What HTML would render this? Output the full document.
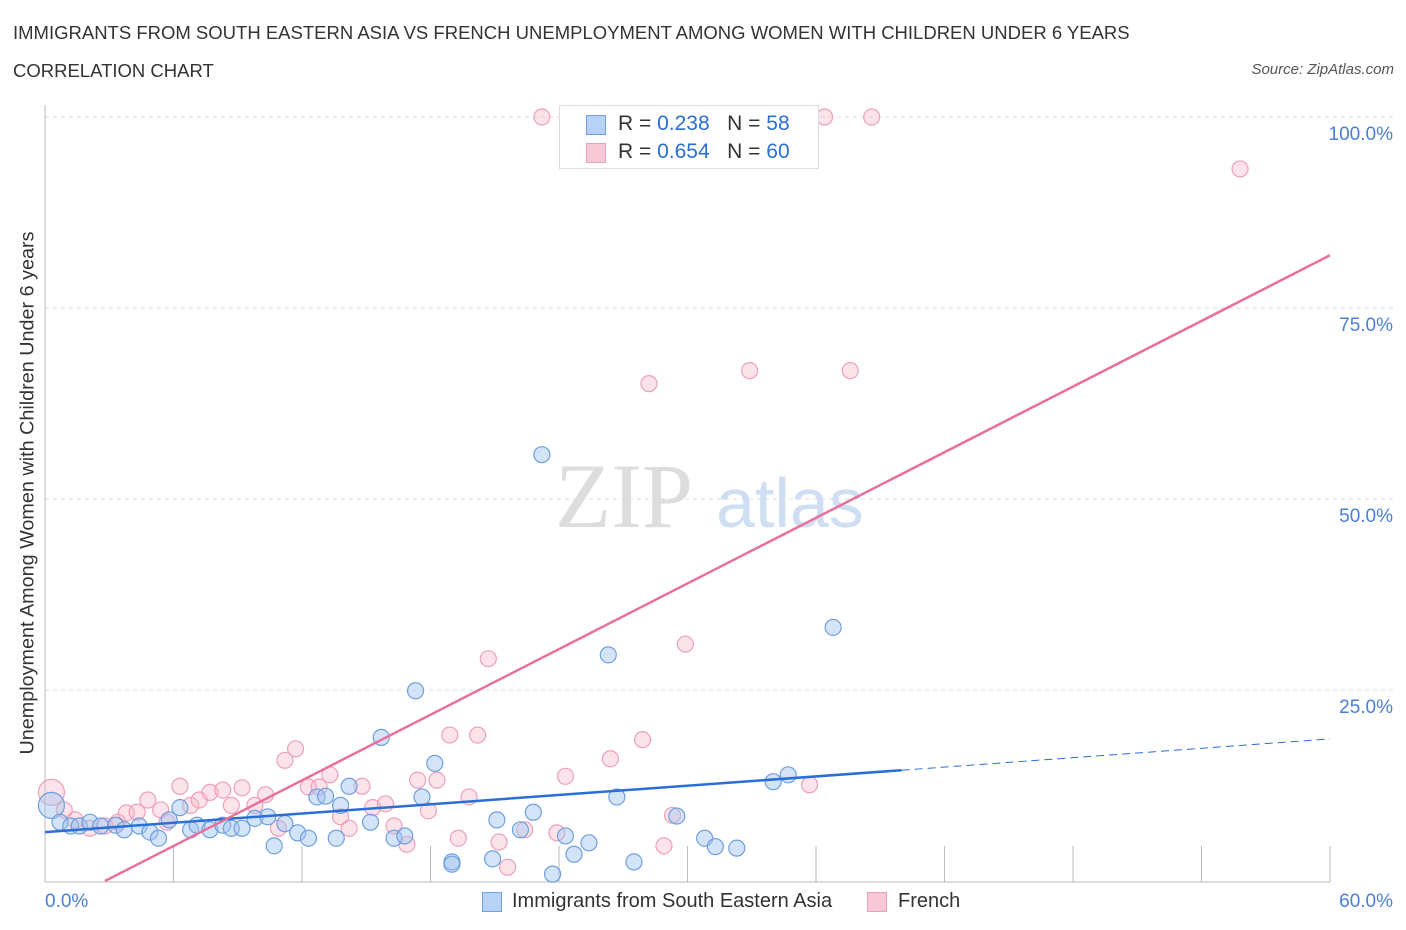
<!DOCTYPE html>
<html><head><meta charset="utf-8">
<style>
body{margin:0;background:#fff;font-family:"Liberation Sans",sans-serif;}
#wrap{position:relative;width:1406px;height:930px;overflow:hidden;}
.t{position:absolute;white-space:nowrap;}
</style></head><body>
<div id="wrap">
<div class="t" style="left:13px;top:22px;font-size:18.5px;color:#333;">IMMIGRANTS FROM SOUTH EASTERN ASIA VS FRENCH UNEMPLOYMENT AMONG WOMEN WITH CHILDREN UNDER 6 YEARS</div>
<div class="t" style="left:13px;top:60px;font-size:18.5px;color:#333;">CORRELATION CHART</div>
<div class="t" style="right:12px;top:61px;font-size:15px;color:#555;font-style:italic;">Source: ZipAtlas.com</div>
<svg id="svg" width="1406" height="930" style="position:absolute;left:0;top:0;"></svg>
</div>
<script>
const xTicks=[0,6,12,18,24,30,36,42,48,54,60];
const yTicks=[25,50,75,100];
const yTickLabels=["25.0%","50.0%","75.0%","100.0%"];
const blueX=[0.3,0.7,1.2,1.6,2.1,2.6,3.3,3.7,4.4,4.9,5.3,5.8,6.3,6.8,7.1,7.7,8.3,8.7,9.2,9.8,10.4,10.7,11.2,11.8,12.3,12.7,13.1,13.6,13.8,14.2,15.2,15.7,16.3,16.8,17.3,17.6,18.2,19.0,19.0,20.9,21.1,22.2,22.8,23.2,23.7,24.3,24.7,25.4,26.3,26.7,27.5,29.5,30.8,31.3,32.3,34.0,34.7,36.8];
const blueY=[9.9,7.7,7.2,7.2,7.7,7.2,7.3,6.7,7.2,6.4,5.6,8.0,9.6,6.7,7.3,6.7,7.3,6.9,6.9,8.2,8.4,4.6,7.5,6.3,5.6,11.0,11.1,5.6,9.9,12.4,7.7,18.8,5.6,5.9,24.9,11.0,15.4,2.5,2.2,2.9,8.0,6.7,9.0,55.8,0.9,5.9,3.5,5.0,29.6,11.0,2.5,8.5,5.6,4.5,4.3,13.0,13.9,33.2];
const pinkX=[0.3,0.9,1.4,2.1,2.8,3.4,3.8,4.3,4.8,5.4,5.7,6.3,6.8,7.2,7.7,8.3,8.7,9.2,9.8,10.3,10.9,11.2,11.7,12.3,12.8,13.3,13.8,14.2,14.8,15.3,15.9,16.3,16.9,17.4,17.9,18.3,18.9,19.3,19.8,20.2,20.7,21.2,21.6,22.4,23.2,23.9,24.3,26.4,27.9,28.2,28.9,29.3,29.9,32.9,35.7,36.4,37.6,38.6,55.8];
const pinkY=[11.6,9.3,8.0,6.9,7.2,7.7,8.9,9.0,10.6,9.3,7.7,12.4,9.9,10.6,11.6,11.9,9.9,12.2,9.9,11.3,6.9,15.8,17.3,12.3,12.3,13.9,8.4,6.9,12.4,9.6,10.1,7.2,4.8,13.2,9.2,13.2,19.1,5.6,11.0,19.1,29.1,5.1,1.8,6.7,100,6.3,13.7,16.0,18.5,65.1,4.6,8.6,31.0,66.8,12.6,100,66.8,100,93.2];
const blueTrend=[0,6.4,40,14.5,60,18.6];
const pinkTrend=[2.8,0,60,81.9];
const X=v=>45+v*21.417, Y=v=>881-v*7.64;
const svg=document.getElementById('svg');const NS='http://www.w3.org/2000/svg';
function mk(t,a,p){const e=document.createElementNS(NS,t);for(const k in a)e.setAttribute(k,a[k]);(p||svg).appendChild(e);return e;}
yTicks.forEach((v,i)=>{const g=mk('line',{x1:45,x2:1393,y1:Y(v),y2:Y(v),stroke:'#ddd','stroke-dasharray':'4,4'});


const t=mk('text',{x:1393,y:Y(v)+23,'text-anchor':'end','font-size':19,fill:'#4a7fd6','font-family':'Liberation Sans'});t.textContent=yTickLabels[i];

});
const wm=mk('text',{x:555,y:527,'font-size':92,fill:'#ddd','font-family':'Liberation Serif'});wm.textContent='ZIP';


const wm2=mk('text',{x:716,y:527,'font-size':70,fill:'#cfdff3','font-family':'Liberation Sans'});wm2.textContent='atlas';


mk('line',{x1:45,x2:45,y1:105,y2:882,stroke:'#bbb'});
const ax=mk('line',{x1:45,x2:1330,y1:882,y2:882,stroke:'#bbb'});


xTicks.forEach(v=>{const l=mk('line',{x1:X(v),x2:X(v),y1:846,y2:882,stroke:'#bbb'});

});
function dots(xs,ys,fill,stroke,name){xs.forEach((x,i)=>{const c=mk('circle',{cx:X(x),cy:Y(ys[i]),r:(i==0?13:8),fill:fill,stroke:stroke,'stroke-width':1.2});

});}
dots(pinkX,pinkY,'rgba(245,175,195,0.35)','#eda0b9','french-point');
dots(blueX,blueY,'rgba(160,195,240,0.45)','#6f9fdf','sea-point');
const bl=mk('line',{x1:X(blueTrend[0]),y1:Y(blueTrend[1]),x2:X(blueTrend[2]),y2:Y(blueTrend[3]),stroke:'#2a6fd6','stroke-width':2.5});


const bd=mk('line',{x1:X(blueTrend[2]),y1:Y(blueTrend[3]),x2:X(blueTrend[4]),y2:Y(blueTrend[5]),stroke:'#2a6fd6','stroke-width':1,'stroke-dasharray':'8,5'});


const pl=mk('line',{x1:X(pinkTrend[0]),y1:Y(pinkTrend[1]),x2:X(pinkTrend[2]),y2:Y(pinkTrend[3]),stroke:'#e8709a','stroke-width':2.5});


</script>
<div class="t" style="left:45px;top:891px;font-size:19px;color:#4a7fd6;">0.0%</div>
<div class="t" style="right:13px;top:891px;font-size:19px;color:#4a7fd6;">60.0%</div>
<div class="t" style="left:28px;top:493px;font-size:19.8px;color:#333;transform:translate(-50%,-50%) rotate(-90deg);">Unemployment Among Women with Children Under 6 years</div>
<div style="position:absolute;left:559px;top:105px;width:258px;height:62px;border:1px solid #ddd;background:#fff;font-size:21px;color:#333;">
<div style="position:absolute;left:26px;top:9px;width:18px;height:18px;background:#b8d2f5;border:1px solid #6f9fdf;"></div>
<div class="t" style="left:58px;top:6px;">R = <span style="color:#2a6fd6">0.238</span>&nbsp;&nbsp;&nbsp;N = <span style="color:#2a6fd6">58</span></div>
<div style="position:absolute;left:26px;top:37px;width:18px;height:18px;background:#f8c8d6;border:1px solid #eda0b9;"></div>
<div class="t" style="left:58px;top:34px;">R = <span style="color:#2a6fd6">0.654</span>&nbsp;&nbsp;&nbsp;N = <span style="color:#2a6fd6">60</span></div>
</div>
<div style="position:absolute;left:480px;top:890px;font-size:20px;color:#333;">
<div style="position:absolute;left:2px;top:2px;width:18px;height:18px;background:#b8d2f5;border:1px solid #6f9fdf;"></div>
<div class="t" style="left:32px;top:0px;">Immigrants from South Eastern Asia</div>
<div style="position:absolute;left:387px;top:2px;width:18px;height:18px;background:#f8c8d6;border:1px solid #eda0b9;"></div>
<div class="t" style="left:418px;top:0px;">French</div>
</div>
</body></html>
